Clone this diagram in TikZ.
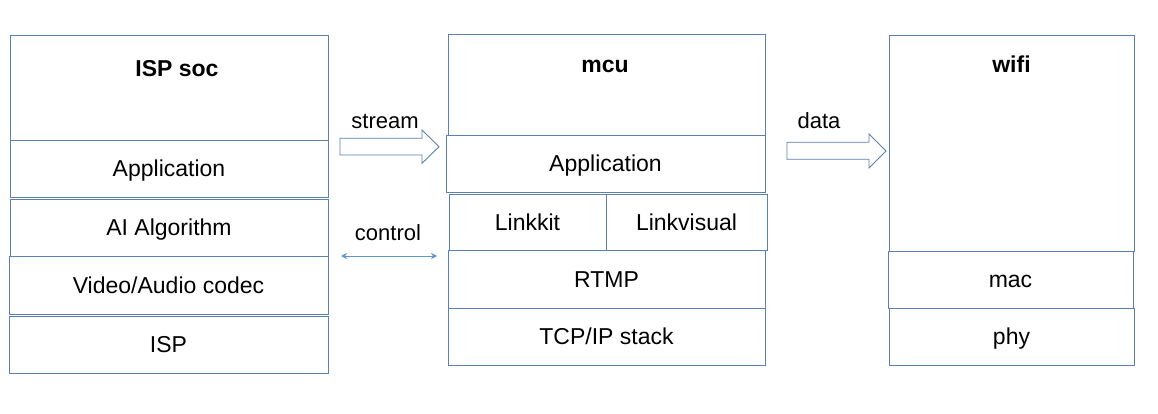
\documentclass[tikz,border=0pt]{standalone}
\usepackage{fontspec}
\setmainfont{Liberation Sans}
\usetikzlibrary{arrows.meta}
\begin{document}
\begin{tikzpicture}[x=1pt,y=-1pt,
  lay/.style={draw=boxblue, line width=0.9pt, fill=white, inner sep=0pt, text height=16.5pt, text depth=0pt, font=\fontsize{23}{26}\selectfont},
  ttl/.style={inner sep=0pt, text height=16.5pt, text depth=0pt, font=\fontsize{23}{26}\selectfont\bfseries},
  lbl/.style={inner sep=0pt, font=\fontsize{22}{26}\selectfont},
  blockarr/.style={draw=boxblue, line width=0.9pt, fill=white, line join=miter},
  ctrl/.style={draw=ctrlblue, line width=0.9pt, {Stealth[length=6pt,width=6pt]}-{Stealth[length=6pt,width=6pt]}}
]
\definecolor{boxblue}{RGB}{92,128,176}
\definecolor{ctrlblue}{RGB}{91,150,205}
\useasboundingbox[fill=white] (0,0) rectangle (1158,414);

% ISP soc column
\node[lay, minimum width=318pt, minimum height=105pt] (ispTop) at (169,87.5) {};
\node[ttl] (ispTitle) at (177,68) {ISP soc};
\node[lay, minimum width=318pt, minimum height=57pt] (ispApp) at (169,168.5) {Application};
\node[lay, minimum width=318pt, minimum height=57pt] (ispAI) at (169,227.5) {AI Algorithm};
\node[lay, minimum width=319pt, minimum height=58pt] (ispCodec) at (168.5,285) {Video/Audio codec};
\node[lay, minimum width=319pt, minimum height=57pt] (ispISP) at (168.5,344.5) {ISP};

% mcu column
\node[lay, minimum width=317pt, minimum height=101pt] (mcuTop) at (606.5,84.5) {};
\node[ttl] (mcuTitle) at (605,64) {mcu};
\node[lay, minimum width=319pt, minimum height=57pt] (mcuApp) at (605.5,163.5) {Application};
\node[lay, minimum width=157pt, minimum height=56pt] (linkkit) at (527.5,222) {Linkkit};
\node[lay, minimum width=161pt, minimum height=56pt] (linkvisual) at (686.5,222) {Linkvisual};
\node[lay, minimum width=317pt, minimum height=58pt] (rtmp) at (606.5,279) {RTMP};
\node[lay, minimum width=317pt, minimum height=57pt] (tcp) at (606.5,336.5) {TCP/IP stack};

% wifi column
\node[lay, minimum width=245pt, minimum height=216pt] (wifiTop) at (1011.5,143) {};
\node[ttl] (wifiTitle) at (1011.5,64) {wifi};
\node[lay, minimum width=245pt, minimum height=57pt] (mac) at (1010.5,279.5) {mac};
\node[lay, minimum width=245pt, minimum height=57pt] (phy) at (1011.5,336.5) {phy};

% stream block arrow
\draw[blockarr] (340,138.3) -- (422,138.3) -- (422,130) -- (439,146.7) -- (422,163.3) -- (422,155) -- (340,155) -- cycle;
\node[lbl] (streamLbl) at (385,121) {stream};

% data block arrow
\draw[blockarr] (787,142.3) -- (869,142.3) -- (869,134) -- (886,151) -- (869,168) -- (869,159.3) -- (787,159.3) -- cycle;
\node[lbl] (dataLbl) at (819,121) {data};

% control double arrow
\coordinate (ctrlL) at (341,256);
\coordinate (ctrlR) at (437,256);
\draw[ctrl] (ctrlL) -- (ctrlR);
\node[lbl] (ctrlLbl) at (388,233) {control};
\end{tikzpicture}
\end{document}
